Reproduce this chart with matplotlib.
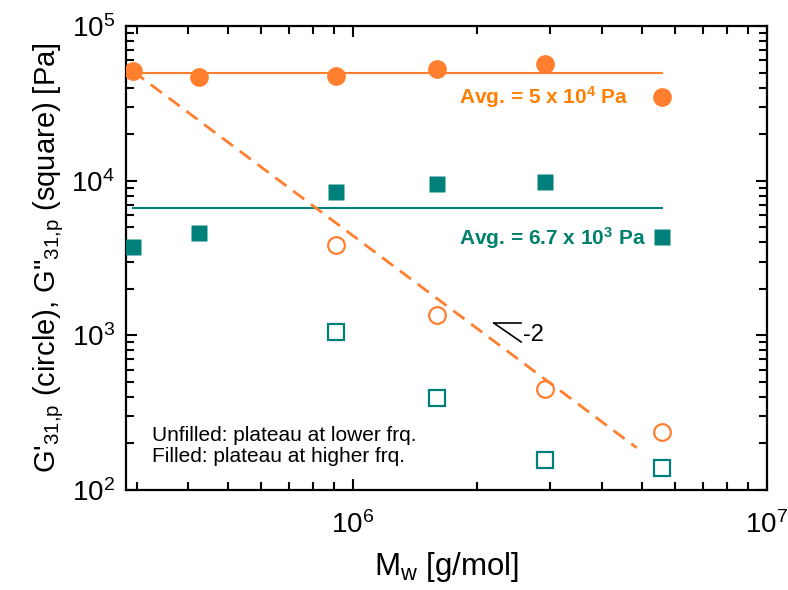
import numpy as np
import matplotlib
matplotlib.use("Agg")
import matplotlib.pyplot as plt
from matplotlib.ticker import LogLocator, LogFormatterMathtext, NullFormatter

plt.rcParams['font.family'] = ['Liberation Sans', 'DejaVu Sans']
plt.rcParams['mathtext.default'] = 'regular'

# molecular weights [g/mol]
mw = [2.94e5, 4.25e5, 9.1e5, 1.6e6, 2.91e6, 5.57e6]

# plateau at higher frequency (filled)
gp_filled = [5.1e4, 4.7e4, 4.75e4, 5.3e4, 5.7e4, 3.45e4]
gpp_filled = [3.72e3, 4.6e3, 8.45e3, 9.5e3, 9.8e3, 4.33e3]

# plateau at lower frequency (unfilled), only for the larger Mw
mw_open = [9.1e5, 1.6e6, 2.91e6, 5.57e6]
gp_open = [3.84e3, 1.36e3, 450, 237]
gpp_open = [1.05e3, 394, 157, 139]

avg_gp = 5e4
avg_gpp = 6.7e3

# -2 scaling line
slope = -2
fit_x = [2.94e5, 4.85e6]

orange = '#FF7F2F'
teal = '#00807A'
orange_txt = '#FF7F00'
teal_txt = '#00806B'

fig = plt.figure(figsize=(7.88, 5.90), dpi=100)
ax = fig.add_axes([0.160, 0.1695, 0.813, 0.7865])

ax.plot([mw[0], mw[-1]], [avg_gp, avg_gp], color=orange, lw=1.5, zorder=1)
ax.plot([mw[0], mw[-1]], [avg_gpp, avg_gpp], color=teal, lw=1.5, zorder=1)

fx = np.array(fit_x)
ax.plot(fx, gp_filled[0] * (fx / fit_x[0]) ** slope, color=orange, lw=2,
        ls=(0, (5, 3)), zorder=1)

ax.plot(mw, gp_filled, 'o', color=orange, ms=13.5, mec='none', zorder=3)
ax.plot(mw, gpp_filled, 's', color=teal, ms=12, mec='none', zorder=3)
ax.plot(mw_open, gp_open, 'o', mfc='none', mec=orange, mew=1.6, ms=12, zorder=3)
ax.plot(mw_open, gpp_open, 's', mfc='none', mec=teal, mew=1.6, ms=11, zorder=3)

# slope triangle
ax.plot([2.19e6, 2.55e6], [1.20e3, 1.20e3], color='black', lw=1.2)
ax.plot([2.19e6, 2.55e6], [1.20e3, 906], color='black', lw=1.2)
ax.text(2.57e6, 1.0e3, '-2', fontsize=17, va='center', ha='left')

ax.text(1.8e6, 3.45e4, 'Avg. = 5 x 10$^4$ Pa', color=orange_txt,
        fontsize=15, fontweight='bold', va='center', ha='left')
ax.text(1.8e6, 4.25e3, 'Avg. = 6.7 x 10$^3$ Pa', color=teal_txt,
        fontsize=15, fontweight='bold', va='center', ha='left')

ax.text(0.04, 0.095, 'Unfilled: plateau at lower frq.\nFilled: plateau at higher frq.',
        transform=ax.transAxes, fontsize=15, va='center', ha='left',
        linespacing=1.15)

ax.set_xscale('log')
ax.set_yscale('log')
ax.set_xlim(2.83e5, 1e7)
ax.set_ylim(1e2, 1e5)

ax.xaxis.set_major_locator(LogLocator(base=10))
ax.xaxis.set_minor_locator(LogLocator(base=10, subs=np.arange(2, 10)))
ax.yaxis.set_minor_locator(LogLocator(base=10, subs=np.arange(2, 10)))
ax.xaxis.set_major_formatter(LogFormatterMathtext())
ax.yaxis.set_major_formatter(LogFormatterMathtext())
ax.xaxis.set_minor_formatter(NullFormatter())
ax.yaxis.set_minor_formatter(NullFormatter())

ax.tick_params(which='both', direction='in', top=True, right=True, width=1.5)
ax.tick_params(which='major', length=8, labelsize=20, pad=8)
ax.tick_params(axis='x', which='major', pad=15)
ax.tick_params(which='minor', length=5.5)
for s in ax.spines.values():
    s.set_linewidth(1.6)

ax.set_xlabel('M$_w$ [g/mol]', fontsize=22.5, labelpad=8)
ax.set_ylabel('G\'$_{31{,}p}$ (circle), G"$_{31{,}p}$ (square) [Pa]', fontsize=21,
              labelpad=4)

fig.savefig('out.png', dpi=100)
